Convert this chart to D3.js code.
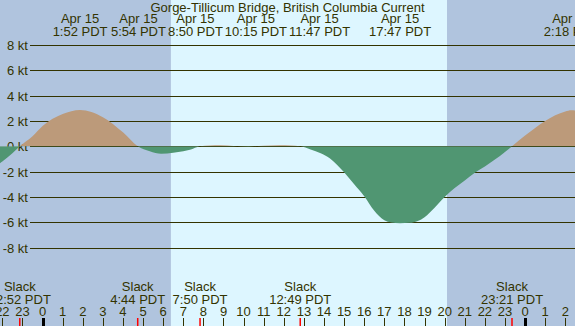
<!DOCTYPE html>
<html>
<head>
<meta charset="utf-8">
<script src="https://cdn.jsdelivr.net/npm/d3@7"></script>
<style>
    body { margin: 0; }
    text { font-family: "Liberation Sans", Arial, sans-serif; font-size: 13px; fill: #333300; }
</style>
</head>
<body>
<div id="chart"></div>
<script>
// current predictions (kt, + = flood, - = ebb)
const currentTimes = [
    "2021-04-14 21:30", "2021-04-14 22:00", "2021-04-14 22:30", "2021-04-14 22:52", "2021-04-14 23:30",
    "2021-04-15 00:00", "2021-04-15 01:00", "2021-04-15 01:52", "2021-04-15 03:00", "2021-04-15 04:00",
    "2021-04-15 04:44", "2021-04-15 05:20", "2021-04-15 05:54", "2021-04-15 06:30", "2021-04-15 07:00",
    "2021-04-15 07:20", "2021-04-15 07:50", "2021-04-15 08:20", "2021-04-15 08:50", "2021-04-15 09:30",
    "2021-04-15 10:15", "2021-04-15 11:00", "2021-04-15 11:47", "2021-04-15 12:20", "2021-04-15 12:49",
    "2021-04-15 13:20", "2021-04-15 13:50", "2021-04-15 14:17", "2021-04-15 14:40", "2021-04-15 15:00",
    "2021-04-15 15:30", "2021-04-15 16:00", "2021-04-15 16:30", "2021-04-15 17:00", "2021-04-15 17:20",
    "2021-04-15 17:47", "2021-04-15 18:15", "2021-04-15 18:40", "2021-04-15 19:00", "2021-04-15 19:30",
    "2021-04-15 20:00", "2021-04-15 20:30", "2021-04-15 21:00", "2021-04-15 21:30", "2021-04-15 22:00",
    "2021-04-15 22:30", "2021-04-15 23:00", "2021-04-15 23:21", "2021-04-16 00:00", "2021-04-16 00:30",
    "2021-04-16 01:00", "2021-04-16 01:30", "2021-04-16 02:00", "2021-04-16 02:18", "2021-04-16 02:45"
];
const currentKt = [
    -1.75, -1.2, -0.55, 0, 0.8,
    1.6, 2.55, 2.87, 2.3, 1.1,
    0, -0.4, -0.6, -0.52, -0.4,
    -0.28, 0, 0.06, 0.08, 0.02,
    -0.03, 0.03, 0.08, 0.05, 0,
    -0.25, -0.55, -0.95, -1.5, -2.05,
    -3.0, -3.95, -5.1, -5.85, -6.02,
    -6.08, -6.05, -5.9, -5.6, -4.85,
    -4.0, -3.3, -2.7, -2.1, -1.6,
    -1.05, -0.45, 0, 0.85, 1.45,
    2.0, 2.45, 2.75, 2.85, 2.75
];

// max flood / max ebb labels along the top
const peakTimes = ["2021-04-15 01:52", "2021-04-15 05:54", "2021-04-15 08:50", "2021-04-15 10:15",
    "2021-04-15 11:47", "2021-04-15 17:47", "2021-04-16 02:18"];
const peakDays = ["Apr 15", "Apr 15", "Apr 15", "Apr 15", "Apr 15", "Apr 15", "Apr 16"];
const peakLabels = ["1:52 PDT", "5:54 PDT", "8:50 PDT", "10:15 PDT", "11:47 PDT", "17:47 PDT", "2:18 PDT"];

// slack water labels along the bottom
const slackTimes = ["2021-04-14 22:52", "2021-04-15 04:44", "2021-04-15 07:50", "2021-04-15 12:49", "2021-04-15 23:21"];
const slackLabels = ["22:52 PDT", "4:44 PDT", "7:50 PDT", "12:49 PDT", "23:21 PDT"];

const sunrise = "2021-04-15 06:23";
const sunset = "2021-04-15 20:07";
const viewStart = "2021-04-14 21:53";
const viewEnd = "2021-04-16 02:29";

const yTicks = [8, 6, 4, 2, 0, -2, -4, -6, -8];
const title = "Gorge-Tillicum Bridge, British Columbia Current";

const w = 575, h = 326;
const parseTime = d3.timeParse("%Y-%m-%d %H:%M");

let values = currentTimes.map((t, i) => ({ t: parseTime(t), v: currentKt[i] }));

let xScale = d3.scaleTime()
    .domain([parseTime(viewStart), parseTime(viewEnd)])
    .range([0, w]);

let yScale = d3.scaleLinear()
    .domain([-8, 8])
    .range([247.5, 45]);

let svg = d3.select("#chart")
    .append("svg")
    .attr("width", w)
    .attr("height", h);

// night / day backgrounds
svg.append("rect")
    .attr("width", w).attr("height", h)
    .attr("fill", "#b0c4de");
svg.append("rect")
    .attr("x", xScale(parseTime(sunrise)))
    .attr("width", xScale(parseTime(sunset)) - xScale(parseTime(sunrise)))
    .attr("height", h)
    .attr("fill", "#ddf6ff");

// horizontal grid + kt labels
let grid = svg.append("g");
grid.selectAll("line")
    .data(yTicks)
    .join("line")
    .attr("x1", 30).attr("x2", w)
    .attr("y1", d => Math.round(yScale(d)) + 0.5)
    .attr("y2", d => Math.round(yScale(d)) + 0.5)
    .attr("stroke", "#333300")
    .attr("stroke-width", 1);
grid.selectAll("text")
    .data(yTicks)
    .join("text")
    .attr("x", 28)
    .attr("y", d => yScale(d) + 5)
    .attr("text-anchor", "end")
    .text(d => d + " kt");

// flood above zero, ebb below: same curve, two clips
let y0 = yScale(0);
let defs = svg.append("defs");
defs.append("clipPath").attr("id", "above")
    .append("rect").attr("width", w).attr("height", y0);
defs.append("clipPath").attr("id", "below")
    .append("rect").attr("y", y0).attr("width", w).attr("height", h - y0);

let area = d3.area()
    .curve(d3.curveMonotoneX)
    .x(d => xScale(d.t))
    .y0(y0)
    .y1(d => yScale(d.v));

svg.append("path")
    .datum(values)
    .attr("clip-path", "url(#above)")
    .attr("fill", "#bc9a7a")
    .attr("d", area);
svg.append("path")
    .datum(values)
    .attr("clip-path", "url(#below)")
    .attr("fill", "#509672")
    .attr("d", area);

// title
svg.append("text")
    .attr("x", w / 2)
    .attr("y", 12)
    .attr("text-anchor", "middle")
    .text(title);

// top labels, pushed apart when they overlap
let peaks = peakTimes.map((t, i) => ({ x: xScale(parseTime(t)), day: peakDays[i], label: peakLabels[i] }));
let peakG = svg.append("g")
    .selectAll("g")
    .data(peaks)
    .join("g");
peakG.append("text")
    .attr("class", "day")
    .attr("y", 23)
    .attr("text-anchor", "middle")
    .text(d => d.day);
peakG.append("text")
    .attr("class", "time")
    .attr("y", 36)
    .attr("text-anchor", "middle")
    .text(d => d.label);
peakG.each(function (d) {
    d.w = d3.select(this).select(".time").node().getComputedTextLength();
    d.pos = d.x;
});
for (let k = 0; k < 200; k++) {
    for (let i = 0; i < peaks.length - 1; i++) {
        let a = peaks[i], b = peaks[i + 1];
        let overlap = (a.pos + a.w / 2 + 2) - (b.pos - b.w / 2);
        if (overlap > 0) {
            a.pos -= overlap / 2;
            b.pos += overlap / 2;
        }
    }
}
peakG.attr("transform", d => "translate(" + d.pos + ",0)");

// slack labels
let slackG = svg.append("g")
    .selectAll("g")
    .data(slackTimes)
    .join("g")
    .attr("transform", d => "translate(" + xScale(parseTime(d)) + ",0)");
slackG.append("text")
    .attr("y", 291)
    .attr("text-anchor", "middle")
    .text("Slack");
slackG.append("text")
    .attr("y", 303.5)
    .attr("text-anchor", "middle")
    .text((d, i) => slackLabels[i]);

// hour axis along the bottom
let hours = xScale.ticks(d3.timeHour.every(1));
let hourG = svg.append("g");
hourG.selectAll("text")
    .data(hours)
    .join("text")
    .attr("x", d => xScale(d))
    .attr("y", 315.5)
    .attr("text-anchor", "middle")
    .text(d3.timeFormat("%-H"));
hourG.selectAll("line")
    .data(hours)
    .join("line")
    .attr("x1", d => Math.round(xScale(d)) + 0.5)
    .attr("x2", d => Math.round(xScale(d)) + 0.5)
    .attr("y1", 318).attr("y2", h)
    .attr("stroke", d => d.getHours() === 0 ? "#000" : "#333300")
    .attr("stroke-width", d => d.getHours() === 0 ? 3 : 1);

// red marks at slack
svg.append("g")
    .selectAll("line")
    .data(slackTimes)
    .join("line")
    .attr("x1", d => xScale(parseTime(d)))
    .attr("x2", d => xScale(parseTime(d)))
    .attr("y1", 318).attr("y2", h)
    .attr("stroke", "red")
    .attr("stroke-width", 1.5);
</script>
</body>
</html>
